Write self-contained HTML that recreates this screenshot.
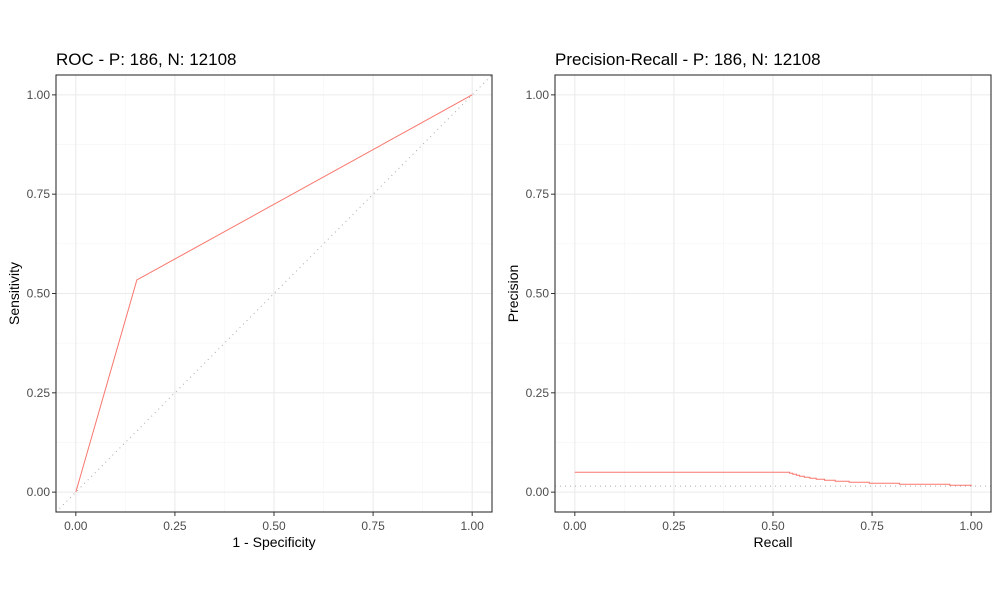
<!DOCTYPE html>
<html><head><meta charset="utf-8"><style>
body{margin:0;background:#fff}
text{font-family:"Liberation Sans",Arial,sans-serif}
</style></head><body>
<svg id="c" width="1000" height="600"></svg>
<script>
const rocFpr=[0,0.154,1];
const rocTpr=[0,0.534,1];
const prRecall=[0,0.536,0.542,0.550,0.559,0.567,0.579,0.593,0.609,0.630,0.657,0.692,0.743,0.819,0.946,1.0];
const prPrecision=[0.050,0.050,0.0476,0.045,0.0426,0.040,0.0375,0.035,0.0325,0.030,0.0275,0.025,0.0224,0.020,0.0174,0.015];
const prBaseline=[0.0151];
const ticks=[0,0.25,0.5,0.75,1];
const tickLabels=["0.00","0.25","0.50","0.75","1.00"];
const panels=[
 {name:"roc",left:56,title:"ROC - P: 186, N: 12108",xt:"1 - Specificity",yt:"Sensitivity"},
 {name:"pr",left:555,title:"Precision-Recall - P: 186, N: 12108",xt:"Recall",yt:"Precision"}];
const svg=document.getElementById('c');
const NS="http://www.w3.org/2000/svg";
function mk(t,a,p){const e=document.createElementNS(NS,t);for(const k in a)e.setAttribute(k,a[k]);(p||svg).appendChild(e);return e;}
const PTOP=75,H=437,W=436;
panels.forEach(P=>{
 const g=mk('g',{});
 
 
 const sx=v=>P.left+W*(v+0.05)/1.1, sy=v=>PTOP+H*(1.05-v)/1.1;
 P.sx=sx;P.sy=sy;
 for(let i=0;i<4;i++){const m=(ticks[i]+ticks[i+1])/2;
  mk('line',{x1:sx(m),x2:sx(m),y1:PTOP,y2:PTOP+H,stroke:'#f5f5f5','stroke-width':0.6},g);
  mk('line',{y1:sy(m),y2:sy(m),x1:P.left,x2:P.left+W,stroke:'#f5f5f5','stroke-width':0.6},g);}
 ticks.forEach((t,i)=>{
  mk('line',{x1:sx(t),x2:sx(t),y1:PTOP,y2:PTOP+H,stroke:'#ebebeb','stroke-width':1.1},g);
  mk('line',{y1:sy(t),y2:sy(t),x1:P.left,x2:P.left+W,stroke:'#ebebeb','stroke-width':1.1},g);
  mk('line',{x1:sx(t),x2:sx(t),y1:PTOP+H,y2:PTOP+H+4,stroke:'#333'},g);
  mk('line',{x1:P.left-4,x2:P.left,y1:sy(t),y2:sy(t),stroke:'#333'},g);
  const xl=mk('text',{x:sx(t),y:PTOP+H+18,'text-anchor':'middle','font-size':12,fill:'#4d4d4d'},g);xl.textContent=tickLabels[i];
  
  const yl=mk('text',{x:P.left-6,y:sy(t)+4,'text-anchor':'end','font-size':12,fill:'#4d4d4d'},g);yl.textContent=tickLabels[i];
  
 });
 const tt=mk('text',{x:P.left,y:65,'font-size':17,fill:'#000'},g);tt.textContent=P.title;
 
 const xt=mk('text',{x:P.left+W/2,y:547,'text-anchor':'middle','font-size':14,fill:'#000'},g);xt.textContent=P.xt;
 
 const yx=P.left-37,yy=PTOP+H/2;
 const yt=mk('text',{x:yx,y:yy,'text-anchor':'middle','font-size':14,fill:'#000',transform:`rotate(-90 ${yx} ${yy})`},g);yt.textContent=P.yt;
 
 P.g=g;
});
{const P=panels[0],sx=P.sx,sy=P.sy;
 const d=mk('line',{x1:sx(-0.05),y1:sy(-0.05),x2:sx(1.05),y2:sy(1.05),stroke:'#aaa','stroke-dasharray':'1,4'},P.g);
 
 const l=mk('polyline',{points:rocFpr.map((v,i)=>sx(v)+','+sy(rocTpr[i])).join(' '),fill:'none',stroke:'#F8766D','stroke-width':1},P.g);
 }
{const P=panels[1],sx=P.sx,sy=P.sy;
 const d=mk('line',{x1:P.left,x2:P.left+W,y1:sy(prBaseline[0]),y2:sy(prBaseline[0]),stroke:'#aaa','stroke-dasharray':'1,4'},P.g);
 
 let pts=[];for(let i=0;i<prRecall.length;i++){if(i>0)pts.push(sx(prRecall[i])+','+sy(prPrecision[i-1]));pts.push(sx(prRecall[i])+','+sy(prPrecision[i]));}
 const l=mk('polyline',{points:pts.join(' '),fill:'none',stroke:'#F8766D','stroke-width':1},P.g);
 }
panels.forEach(P=>{const r=mk('rect',{x:P.left,y:PTOP,width:W,height:H,fill:'none',stroke:'#333','stroke-width':1.1},P.g);
 });
</script>
</body></html>
